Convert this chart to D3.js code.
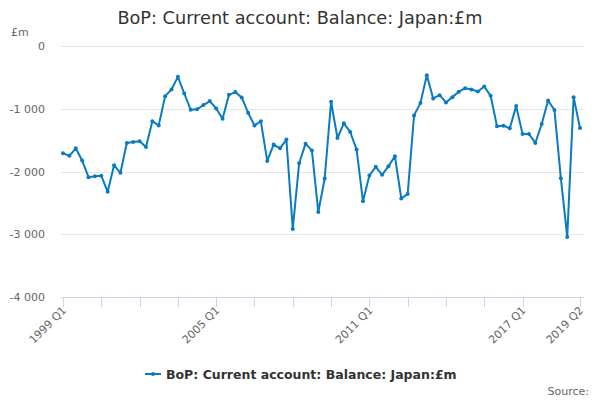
<!DOCTYPE html>
<html>
<head>
<meta charset="utf-8">
<script src="https://cdn.jsdelivr.net/npm/d3@7"></script>
<style>
  body { margin: 0; background: #fff; }
  text { font-family: "DejaVu Sans", sans-serif; }
</style>
</head>
<body>
<div id="chart-area"></div>
<script>
// Data
var quarters = [];
for (var yr = 1999; yr <= 2019; yr++) {
  for (var q = 1; q <= 4; q++) {
    if (yr === 2019 && q > 2) break;
    quarters.push(yr + ' Q' + q);
  }
}
var values = [
  -1710, -1750, -1630, -1825, -2090, -2074, -2069, -2323, -1900, -2021,
  -1545, -1529, -1519, -1608, -1201, -1265, -799, -693, -492, -757,
  -1016, -1008, -942, -878, -995, -1159, -778, -735, -820, -1063,
  -1265, -1201, -1831, -1571, -1630, -1492, -2915, -1868, -1556, -1667,
  -2646, -2111, -889, -1466, -1233, -1370, -1651, -2476, -2063, -1926,
  -2053, -1915, -1757, -2429, -2360, -1106, -910, -466, -836, -783,
  -899, -815, -730, -672, -693, -725, -646, -794, -1280, -1270,
  -1312, -958, -1402, -1402, -1545, -1243, -868, -1021, -2106, -3042,
  -815, -1307
];
var yTicks = [0, -1000, -2000, -3000, -4000];
var tickIdx = [0, 6, 12, 18, 24, 30, 36, 42, 48, 54, 60, 66, 72, 81];
var labelIdx = [0, 24, 48, 72, 81];
var title = 'BoP: Current account: Balance: Japan:£m';

var color = '#0b7bc1';

// Setup SVG
var svg = d3.select('#chart-area').append('svg')
  .attr('width', 600)
  .attr('height', 400);

// Scales
var x = d3.scaleLinear().domain([0, quarters.length - 1]).range([63, 580]);
var y = d3.scaleLinear().domain([-4000, 0]).range([297, 46]);

var fmt = d3.formatLocale({ decimal: '.', thousands: '\u00a0', grouping: [3], currency: ['', ''], minus: '-' }).format(',');

// Title
svg.append('text')
  .attr('x', 300)
  .attr('y', 24)
  .attr('text-anchor', 'middle')
  .style('font-size', '17.7px')
  .style('fill', '#333')
  .text(title);

// Unit label
svg.append('text')
  .attr('x', 11)
  .attr('y', 36)
  .style('font-size', '11px')
  .style('fill', '#666')
  .text('£m');

// Gridlines
svg.append('g').selectAll('line')
  .data(yTicks.slice(0, 4))
  .enter().append('line')
  .attr('x1', 61).attr('x2', 584)
  .attr('y1', function (d) { return Math.round(y(d)) + 0.5; })
  .attr('y2', function (d) { return Math.round(y(d)) + 0.5; })
  .attr('stroke', '#e6e6e6');

// Y labels
svg.append('g').selectAll('text')
  .data(yTicks)
  .enter().append('text')
  .attr('x', 45)
  .attr('y', function (d) { return y(d) + 4; })
  .attr('text-anchor', 'end')
  .style('font-size', '11px')
  .style('fill', '#666')
  .text(function (d) { return fmt(d); });

// X axis line and ticks
var xAxis = svg.append('g');
xAxis.append('line')
  .attr('x1', 61).attr('x2', 584)
  .attr('y1', 297.5).attr('y2', 297.5)
  .attr('stroke', '#ccd6eb');
xAxis.selectAll('.tick')
  .data(tickIdx)
  .enter().append('line')
  .attr('class', 'tick')
  .attr('x1', function (d) { return Math.round(x(d)) + 0.5; })
  .attr('x2', function (d) { return Math.round(x(d)) + 0.5; })
  .attr('y1', 297).attr('y2', 307)
  .attr('stroke', '#ccd6eb');
xAxis.selectAll('.xlab')
  .data(labelIdx)
  .enter().append('text')
  .attr('class', 'xlab')
  .attr('text-anchor', 'end')
  .attr('transform', function (d) { return 'translate(' + (x(d) + 4) + ',' + 311 + ') rotate(-45)'; })
  .style('font-size', '11px')
  .style('fill', '#666')
  .text(function (d) { return quarters[d]; });

// Line
var line = d3.line()
  .x(function (d, i) { return x(i); })
  .y(function (d) { return y(d); });

svg.append('path')
  .datum(values)
  .attr('d', line)
  .attr('fill', 'none')
  .attr('stroke', color)
  .attr('stroke-width', 2)
  .attr('stroke-linejoin', 'round');

svg.append('g').selectAll('circle')
  .data(values)
  .enter().append('circle')
  .attr('cx', function (d, i) { return x(i); })
  .attr('cy', function (d) { return y(d); })
  .attr('r', 2)
  .attr('fill', color);

// Legend
var legend = svg.append('g').attr('transform', 'translate(145, 374)');
legend.append('line')
  .attr('x1', 0).attr('x2', 16)
  .attr('y1', 0).attr('y2', 0)
  .attr('stroke', color)
  .attr('stroke-width', 2);
legend.append('circle')
  .attr('cx', 8).attr('cy', 0).attr('r', 2)
  .attr('fill', color);
legend.append('text')
  .attr('x', 21)
  .attr('y', 4.5)
  .style('font-size', '12.5px')
  .style('font-weight', 'bold')
  .style('fill', '#333')
  .text(title);

// Source
svg.append('text')
  .attr('x', 589)
  .attr('y', 395)
  .attr('text-anchor', 'end')
  .style('font-size', '11px')
  .style('fill', '#666')
  .text('Source:');
</script>
</body>
</html>
